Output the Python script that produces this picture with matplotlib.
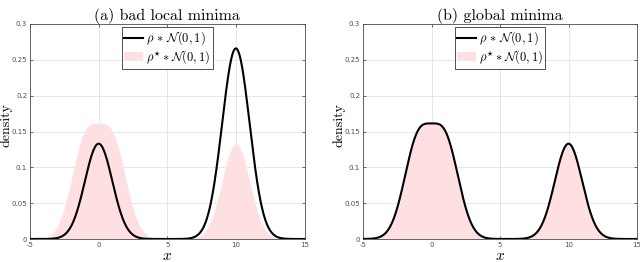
import numpy as np
import matplotlib
matplotlib.use("Agg")
import matplotlib.pyplot as plt
from matplotlib.patches import Patch
from matplotlib.lines import Line2D

plt.rcParams['mathtext.fontset'] = 'cm'

# rho (learned) and rho* (target): atom locations and weights, convolved with N(0,1)
titles = ['(a) bad local minima', '(b) global minima']
rho_locs = [[0, 10], [-1, 1, 10]]
rho_weights = [[1/3, 2/3], [1/3, 1/3, 1/3]]
target_locs = [-1, 1, 10]
target_weights = [1/3, 1/3, 1/3]

xticks = [-5, 0, 5, 10, 15]
yticks = [0, 0.05, 0.1, 0.15, 0.2, 0.25, 0.3]
ytick_labels = ['0', '0.05', '0.1', '0.15', '0.2', '0.25', '0.3']

x = np.linspace(-5, 15, 1001)


def smooth(locs, weights):
    # density of sum_i w_i delta_{m_i} convolved with N(0,1)
    out = np.zeros_like(x)
    for m, w in zip(locs, weights):
        out += w * np.exp(-0.5 * (x - m) ** 2) / np.sqrt(2 * np.pi)
    return out


fig = plt.figure(figsize=(6.4, 2.62), dpi=100)
axes = [fig.add_axes([30 / 640, 1 - 239 / 262, 274.5 / 640, 215 / 262]),
        fig.add_axes([363 / 640, 1 - 239 / 262, 274 / 640, 215 / 262])]
label_x = [13, 345]

pink = '#ffe0e2'
for ax, title, locs, ws, lx in zip(axes, titles, rho_locs, rho_weights, label_x):
    ax.fill_between(x, 0, smooth(target_locs, target_weights), color=pink, lw=0, zorder=1)
    ax.plot(x, smooth(locs, ws), color='black', lw=1.5, zorder=3)
    ax.set_xlim(-5, 15)
    ax.set_ylim(0, 0.3)
    ax.set_xticks(xticks)
    ax.set_xticklabels([str(t) for t in xticks])
    ax.set_yticks(yticks)
    ax.set_yticklabels(ytick_labels)
    ax.grid(True, color='#e3e3e3', lw=0.6, zorder=0)
    ax.set_axisbelow(True)
    ax.tick_params(direction='in', length=2.5, width=0.5, color='#333333',
                   labelsize=5, labelcolor='#4d4d4d', top=True, right=True, pad=2)
    for s in ax.spines.values():
        s.set_color('#4d4d4d')
        s.set_linewidth(0.6)
    ax.set_title(title, fontname='cmr10', fontsize=11.5, pad=3)
    ax.set_xlabel('$x$', fontsize=11, labelpad=0)
    ax.set_ylabel('density', fontname='cmr10', fontsize=10)
    # place the y label by figure pixels
    bb = ax.get_position()
    ax.yaxis.set_label_coords((lx / 640 - bb.x0) / bb.width,
                              (1 - 125 / 262 - bb.y0) / bb.height)
    handles = [Line2D([0], [0], color='black', lw=1.5),
               Patch(facecolor=pink, edgecolor='none')]
    labels = [r'$\rho\, *\, \mathcal{N}(0,1)$', r'$\rho^{\star} * \mathcal{N}(0,1)$']
    leg = ax.legend(handles, labels, loc='upper center', fontsize=9, frameon=True,
                    fancybox=False, edgecolor='#333333', framealpha=1,
                    borderpad=0.2, handlelength=1.5, handletextpad=0.25,
                    labelspacing=0.1, borderaxespad=0.25)
    leg.get_frame().set_linewidth(0.6)

fig.savefig('out.png', dpi=100)
